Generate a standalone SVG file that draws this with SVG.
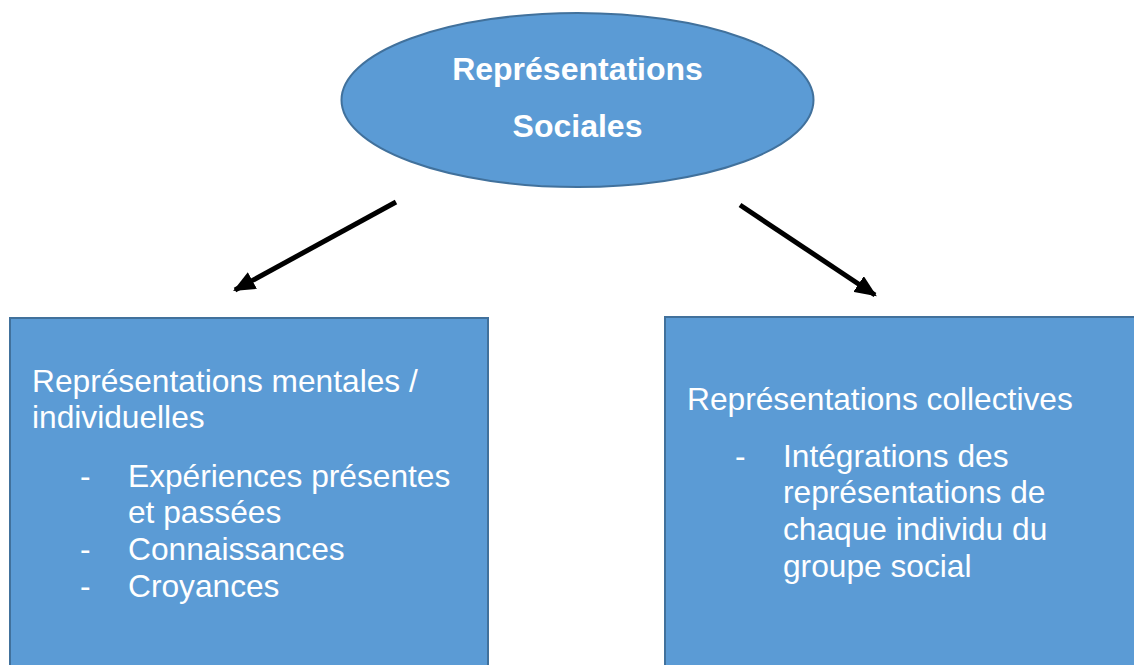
<svg xmlns="http://www.w3.org/2000/svg" width="1134" height="665" viewBox="0 0 1134 665">
<defs>
<style>
.shape{fill:#5B9BD5;stroke:#41719C;stroke-width:2}
.t{font-family:"Liberation Sans",Arial,sans-serif;fill:#ffffff;font-size:31.7px}
.b{font-weight:bold;font-size:32px}
.conn{stroke:#000;stroke-width:5;fill:none}
</style>
<marker id="arr" viewBox="0 0 10 10" refX="9" refY="5" markerWidth="22" markerHeight="19" markerUnits="userSpaceOnUse" orient="auto" preserveAspectRatio="none">
<path d="M0,0 L10,5 L0,10 z" fill="#000"/>
</marker>
</defs>
<rect width="1134" height="665" fill="#ffffff"/>
<g id="node-root">
<ellipse class="shape" cx="577.5" cy="100" rx="236" ry="87"/>
<text class="t b" x="577.5" y="80" text-anchor="middle">Représentations</text>
<text class="t b" x="577.5" y="137" text-anchor="middle">Sociales</text>
</g>
<g id="node-left">
<rect class="shape" x="10" y="318" width="478" height="360"/>
<text class="t" x="32" y="392">Représentations mentales /</text>
<text class="t" x="32" y="428">individuelles</text>
<text class="t" x="80" y="487">-</text>
<text class="t" x="128" y="487">Expériences présentes</text>
<text class="t" x="128" y="523">et passées</text>
<text class="t" x="80" y="560">-</text>
<text class="t" x="128" y="560">Connaissances</text>
<text class="t" x="80" y="597">-</text>
<text class="t" x="128" y="597">Croyances</text>
</g>
<g id="node-right">
<rect class="shape" x="665" y="317" width="480" height="360"/>
<text class="t" x="687" y="410">Représentations collectives</text>
<text class="t" x="735" y="467">-</text>
<text class="t" x="783" y="467">Intégrations des</text>
<text class="t" x="783" y="503">représentations de</text>
<text class="t" x="783" y="540">chaque individu du</text>
<text class="t" x="783" y="577">groupe social</text>
</g>
<g id="connectors">
<line class="conn" x1="396" y1="202" x2="235" y2="290" marker-end="url(#arr)"/>
<line class="conn" x1="740" y1="205" x2="875" y2="295" marker-end="url(#arr)"/>
</g>
</svg>
